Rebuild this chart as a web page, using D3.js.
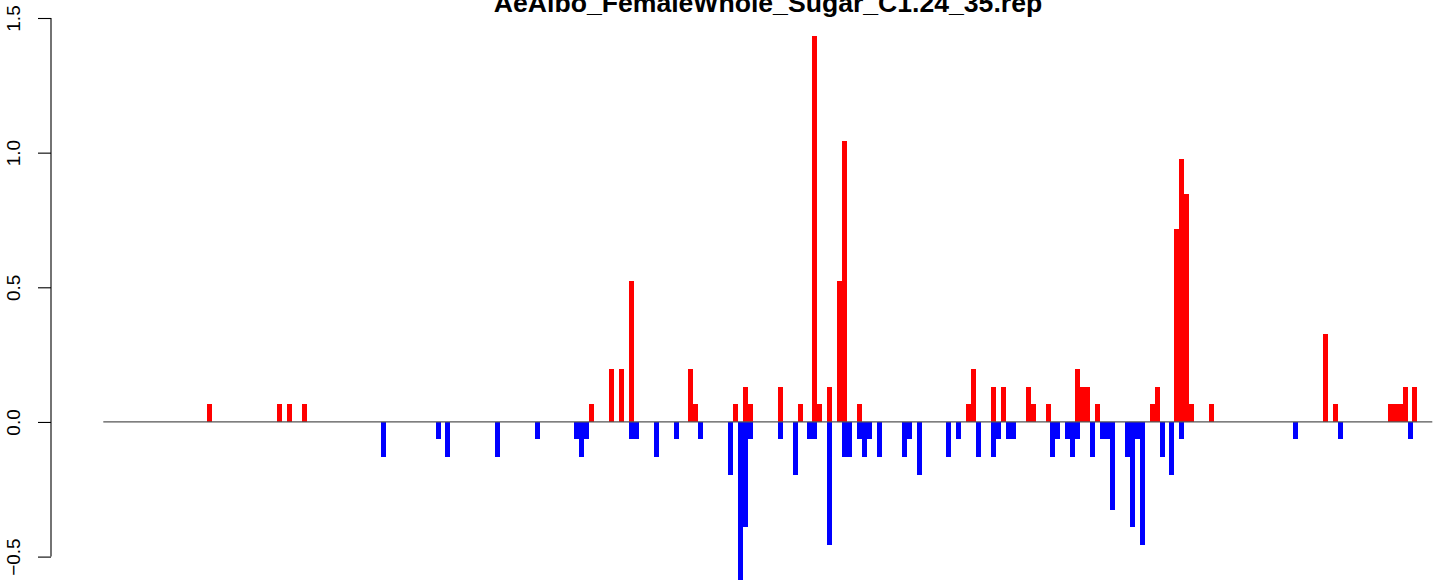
<!DOCTYPE html>
<html>
<head>
<meta charset="utf-8">
<script src="https://cdn.jsdelivr.net/npm/d3@7"></script>
<style>
  html, body { margin: 0; padding: 0; background: #fff; overflow: hidden; }
  svg { display: block; }
  text { font-family: "Liberation Sans", Arial, Helvetica, sans-serif; }
</style>
</head>
<body>
<svg id="chart" width="1441" height="582"></svg>
<script>
// ---- data ----
const chartTitle = "AeAlbo_FemaleWhole_Sugar_C1.24_35.rep";
const positionRange = [1, 269];

const upPositions = [22, 36, 38, 41, 99, 103, 105, 107, 119, 120, 128, 130, 131, 137, 141, 144, 145, 147, 149, 150, 153, 175, 176, 180, 182, 187, 188, 191, 197, 198, 199, 201, 212, 213, 217, 218, 219, 220, 224, 247, 249, 260, 261, 262, 263, 265];
const upValues = [0.065, 0.065, 0.065, 0.065, 0.065, 0.196, 0.196, 0.522, 0.196, 0.065, 0.065, 0.130, 0.065, 0.130, 0.065, 1.434, 0.065, 0.130, 0.522, 1.043, 0.065, 0.065, 0.196, 0.130, 0.130, 0.130, 0.065, 0.065, 0.196, 0.130, 0.130, 0.065, 0.065, 0.130, 0.717, 0.978, 0.848, 0.065, 0.065, 0.326, 0.065, 0.065, 0.065, 0.065, 0.130, 0.130];

const downPositions = [57, 68, 70, 80, 88, 96, 97, 98, 107, 108, 112, 116, 121, 127, 129, 130, 131, 137, 140, 143, 144, 147, 150, 151, 153, 154, 155, 157, 162, 163, 165, 171, 173, 177, 180, 181, 183, 184, 192, 193, 195, 196, 197, 200, 202, 203, 204, 207, 208, 209, 210, 214, 216, 218, 241, 250, 264];
const downValues = [-0.130, -0.065, -0.130, -0.130, -0.065, -0.065, -0.130, -0.065, -0.065, -0.065, -0.130, -0.065, -0.065, -0.196, -0.587, -0.391, -0.065, -0.065, -0.196, -0.065, -0.065, -0.456, -0.130, -0.130, -0.065, -0.130, -0.065, -0.130, -0.130, -0.065, -0.196, -0.130, -0.065, -0.130, -0.130, -0.065, -0.065, -0.065, -0.130, -0.065, -0.065, -0.130, -0.065, -0.130, -0.065, -0.065, -0.326, -0.130, -0.391, -0.065, -0.456, -0.130, -0.196, -0.065, -0.065, -0.065, -0.065];

const yTicks = [-0.5, 0.0, 0.5, 1.0, 1.5];

// ---- layout ----
const svg = d3.select("#chart");
const plotLeft = 51, plotRight = 1485;
const x = d3.scaleLinear().domain(positionRange).range([103.3, 1432.3]);
const y = d3.scaleLinear().domain([-0.5, 1.5]).range([556.6, 18.0]);
const barW = 5;

// title (partially clipped at top, like the reference)
svg.append("text")
  .attr("x", (plotLeft + plotRight) / 2)
  .attr("y", 12)
  .attr("text-anchor", "middle")
  .attr("font-weight", "bold")
  .attr("font-size", 26.6)
  .attr("fill", "#000")
  .text(chartTitle);

// y axis
const yAxis = d3.axisLeft(y)
  .tickValues(yTicks)
  .tickSize(13)
  .tickPadding(0)
  .tickFormat(d => d3.format(".1f")(d).replace("-", "\u2212"));

const gy = svg.append("g")
  .attr("transform", `translate(${plotLeft},0)`)
  .call(yAxis);
gy.select(".domain")
  .attr("d", `M0,${y(1.5)}V${y(-0.5)}`)
  .attr("stroke", "#000").attr("stroke-width", 1.1);
gy.selectAll(".tick line").attr("stroke", "#000").attr("stroke-width", 1.1);
gy.selectAll(".tick text")
  .attr("font-size", 19)
  .attr("fill", "#000")
  .attr("font-family", "'Liberation Sans', Arial, sans-serif")
  .attr("x", null).attr("dy", null)
  .attr("text-anchor", "middle")
  .attr("transform", `translate(${20 - plotLeft},0) rotate(-90)`);

// bars
const upData = upPositions.map((p, i) => ({ p, v: upValues[i] }));
const downData = downPositions.map((p, i) => ({ p, v: downValues[i] }));

svg.append("g").selectAll("rect").data(upData).join("rect")
  .attr("x", d => x(d.p))
  .attr("width", barW)
  .attr("y", d => y(d.v))
  .attr("height", d => y(0) - y(d.v))
  .attr("fill", "#FF0000")
  .attr("shape-rendering", "crispEdges");

svg.append("g").selectAll("rect").data(downData).join("rect")
  .attr("x", d => x(d.p))
  .attr("width", barW)
  .attr("y", y(0))
  .attr("height", d => y(d.v) - y(0))
  .attr("fill", "#0000FF")
  .attr("shape-rendering", "crispEdges");

// baseline across the data range
svg.append("line")
  .attr("x1", x(positionRange[0])).attr("x2", x(positionRange[1]))
  .attr("y1", y(0)).attr("y2", y(0))
  .attr("stroke", "#555").attr("stroke-width", 1.2);
</script>
</body>
</html>
